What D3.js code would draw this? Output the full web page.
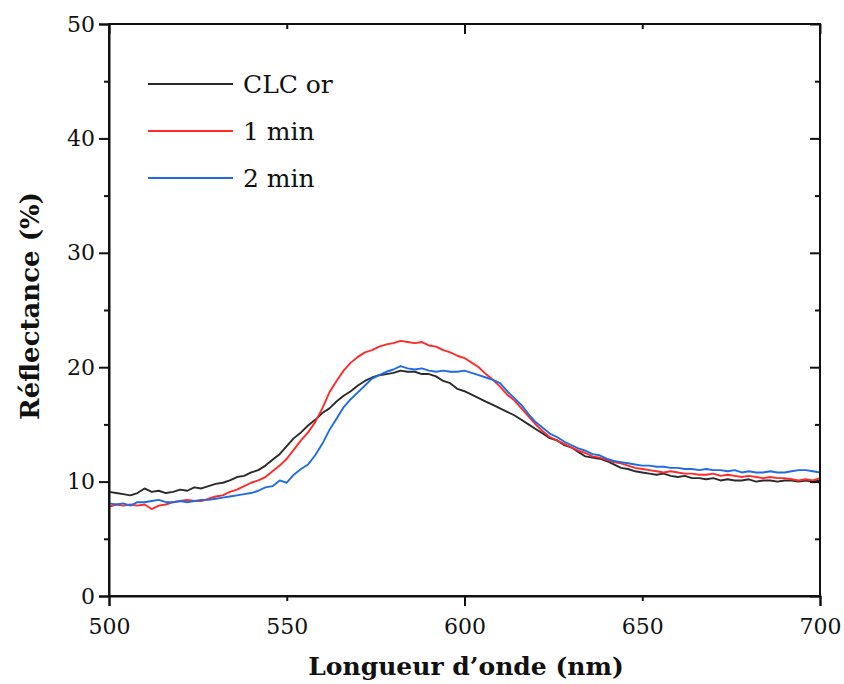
<!DOCTYPE html>
<html><head><meta charset="utf-8">
<script src="https://cdn.jsdelivr.net/npm/d3@7"></script>
<style>html,body{margin:0;padding:0;background:#fff;}svg{display:block;}</style>
</head><body>
<svg id="chart" width="844" height="684"></svg>
<script>
const wavelengths = [500,502,504,506,508,510,512,514,516,518,520,522,524,526,528,530,532,534,536,538,540,542,544,546,548,550,552,554,556,558,560,562,564,566,568,570,572,574,576,578,580,582,584,586,588,590,592,594,596,598,600,602,604,606,608,610,612,614,616,618,620,622,624,626,628,630,632,634,636,638,640,642,644,646,648,650,652,654,656,658,660,662,664,666,668,670,672,674,676,678,680,682,684,686,688,690,692,694,696,698,700];
const clcOr = [9.1,9.0,8.9,8.8,9.0,9.4,9.1,9.2,9.0,9.1,9.3,9.2,9.5,9.4,9.6,9.8,9.9,10.1,10.4,10.5,10.8,11.0,11.4,11.9,12.4,13.1,13.8,14.3,14.9,15.4,16.0,16.4,17.0,17.5,17.9,18.4,18.8,19.1,19.3,19.4,19.5,19.7,19.6,19.6,19.4,19.4,19.2,18.8,18.6,18.1,17.9,17.6,17.3,17.0,16.7,16.4,16.1,15.8,15.4,15.0,14.6,14.2,13.8,13.6,13.2,13.0,12.6,12.2,12.1,12.0,11.8,11.5,11.2,11.1,10.9,10.8,10.7,10.6,10.7,10.5,10.4,10.5,10.3,10.3,10.2,10.3,10.1,10.2,10.1,10.1,10.2,10.0,10.1,10.1,10.0,10.1,10.1,10.0,10.1,10.0,10.1];
const min1 = [7.8,8.0,7.9,8.0,7.9,8.0,7.6,7.9,8.0,8.2,8.3,8.4,8.3,8.3,8.5,8.7,8.8,9.1,9.3,9.6,9.9,10.1,10.4,10.9,11.4,12.0,12.8,13.6,14.3,15.2,16.4,17.8,18.8,19.7,20.4,20.9,21.3,21.5,21.8,22.0,22.1,22.3,22.2,22.1,22.2,21.9,21.8,21.5,21.3,21.0,20.8,20.4,20.0,19.4,18.9,18.3,17.6,17.1,16.4,15.7,15.0,14.4,13.9,13.6,13.3,13.0,12.7,12.5,12.2,12.1,11.9,11.7,11.6,11.4,11.2,11.1,11.0,10.9,10.8,10.9,10.8,10.7,10.7,10.6,10.6,10.7,10.5,10.6,10.5,10.4,10.5,10.4,10.3,10.4,10.3,10.3,10.2,10.1,10.2,10.1,10.3];
const min2 = [8.1,8.0,8.1,7.9,8.2,8.2,8.3,8.4,8.2,8.2,8.3,8.2,8.3,8.4,8.4,8.5,8.6,8.7,8.8,8.9,9.0,9.2,9.5,9.6,10.1,9.9,10.6,11.1,11.5,12.3,13.3,14.5,15.5,16.5,17.2,17.8,18.4,19.0,19.3,19.6,19.8,20.1,19.9,19.8,19.9,19.7,19.6,19.7,19.6,19.6,19.7,19.5,19.3,19.1,18.9,18.6,17.9,17.3,16.7,15.9,15.2,14.7,14.2,13.9,13.5,13.2,12.9,12.7,12.4,12.3,12.0,11.8,11.7,11.6,11.5,11.4,11.4,11.3,11.3,11.2,11.2,11.1,11.1,11.0,11.1,11.0,11.0,10.9,11.0,10.8,10.9,10.8,10.8,10.9,10.8,10.8,10.9,11.0,11.0,10.9,10.8];
const seriesNames = ["CLC or", "1 min", "2 min"];
const seriesColors = ["#2a2a2a", "#ff2a2a", "#1f6be6"];
const xTickLabels = [500, 550, 600, 650, 700];
const yTickLabels = [0, 10, 20, 30, 40, 50];
const xTitle = "Longueur d\u2019onde (nm)";
const yTitle = "R\u00e9flectance (%)";

const margin = {left: 109, right: 24, top: 24, bottom: 88};
const W = 844, H = 684;
const svg = d3.select("#chart");
const x = d3.scaleLinear().domain([500, 700]).range([margin.left, W - margin.right]);
const y = d3.scaleLinear().domain([0, 50]).range([H - margin.bottom, margin.top]);
const font = "'DejaVu Serif', serif";

svg.append("defs").append("clipPath").attr("id", "clip")
  .append("rect").attr("x", margin.left).attr("y", margin.top)
  .attr("width", x.range()[1] - margin.left).attr("height", y.range()[0] - margin.top);

const allSeries = [clcOr, min1, min2];
const line = d3.line().x((d, i) => x(wavelengths[i])).y(d => y(d));
const g = svg.append("g").attr("clip-path", "url(#clip)");
allSeries.forEach((s, k) => {
  g.append("path").datum(s).attr("d", line).attr("fill", "none")
    .attr("stroke", seriesColors[k]).attr("stroke-width", 1.9).attr("stroke-linejoin", "round");
});

const sw = 2;
const xb = svg.append("g").attr("transform", `translate(0,${y(0)})`)
  .call(d3.axisBottom(x).tickValues([500,600,700]).tickSize(10).tickFormat(""));
const xbm = svg.append("g").attr("transform", `translate(0,${y(0)})`)
  .call(d3.axisBottom(x).tickValues([550,650]).tickSize(5).tickFormat(""));
const xlab = svg.append("g").attr("transform", `translate(0,${y(0)})`)
  .call(d3.axisBottom(x).tickValues(xTickLabels).tickSize(0).tickPadding(22).tickFormat(d3.format("d")));
const xt = svg.append("g").attr("transform", `translate(0,${y(50)})`)
  .call(d3.axisBottom(x).tickValues([500,600,700]).tickSize(10).tickFormat(""));
const xtm = svg.append("g").attr("transform", `translate(0,${y(50)})`)
  .call(d3.axisBottom(x).tickValues([550,650]).tickSize(5).tickFormat(""));
const yl = svg.append("g").attr("transform", `translate(${x(500)},0)`)
  .call(d3.axisLeft(y).tickValues(yTickLabels).tickSize(10).tickPadding(4).tickFormat(d3.format("d")));
const ylm = svg.append("g").attr("transform", `translate(${x(500)},0)`)
  .call(d3.axisLeft(y).tickValues([5,15,25,35,45]).tickSize(5).tickFormat(""));
const yr = svg.append("g").attr("transform", `translate(${x(700)},0)`)
  .call(d3.axisLeft(y).tickValues(yTickLabels).tickSize(10).tickFormat(""));
const yrm = svg.append("g").attr("transform", `translate(${x(700)},0)`)
  .call(d3.axisLeft(y).tickValues([5,15,25,35,45]).tickSize(5).tickFormat(""));

svg.selectAll(".domain").attr("stroke", "#111").attr("stroke-width", sw);
svg.selectAll(".tick line").attr("stroke", "#111").attr("stroke-width", sw);
svg.selectAll(".tick text").attr("font-family", font).attr("font-size", 22).attr("fill", "#111");
xlab.select(".domain").remove();
[xbm, xtm, ylm, yrm, xt, yr].forEach(a => a.select(".domain").remove());
svg.append("rect").attr("x", x(500)).attr("y", y(50)).attr("width", x(700) - x(500)).attr("height", y(0) - y(50))
  .attr("fill", "none").attr("stroke", "#111").attr("stroke-width", sw);

svg.append("text").attr("x", 466).attr("y", 675).attr("text-anchor", "middle")
  .attr("font-family", font).attr("font-weight", "bold").attr("font-size", 25).attr("fill", "#111").text(xTitle);
svg.append("text").attr("transform", `translate(39,306) rotate(-90)`).attr("text-anchor", "middle")
  .attr("font-family", font).attr("font-weight", "bold").attr("font-size", 26).attr("fill", "#111").text(yTitle);

const legY = [84, 131, 178];
seriesNames.forEach((n, k) => {
  svg.append("line").attr("x1", 148).attr("x2", 233).attr("y1", legY[k]).attr("y2", legY[k])
    .attr("stroke", seriesColors[k]).attr("stroke-width", 2);
  svg.append("text").attr("x", 243).attr("y", legY[k]).attr("dy", "0.35em")
    .attr("font-family", font).attr("font-size", 25).attr("fill", "#111").text(n);
});
</script>
</body></html>
